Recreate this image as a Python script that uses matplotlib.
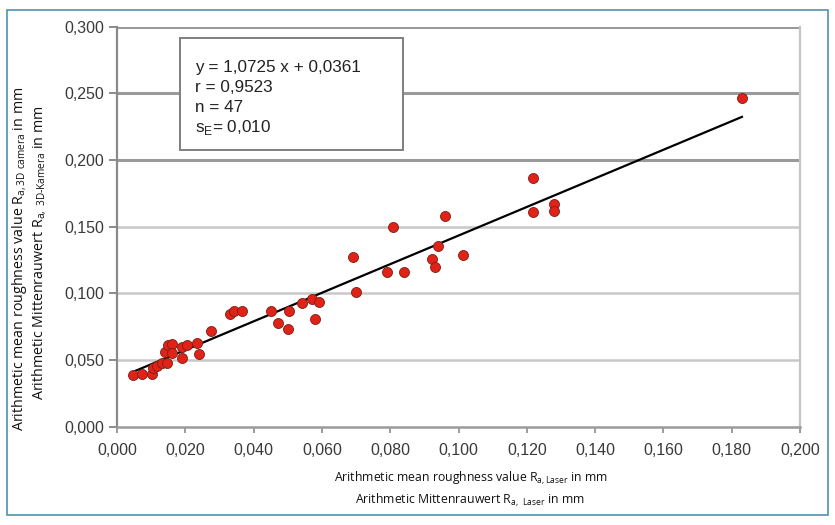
import matplotlib
matplotlib.use("Agg")
import matplotlib.pyplot as plt
from matplotlib.patches import Rectangle
from matplotlib.ticker import FixedLocator

# ---- data ----
laser_x = [0.0046, 0.0072, 0.0103, 0.0106, 0.0116, 0.0131, 0.0146, 0.0141, 0.0150, 0.0160,
           0.0160, 0.0189, 0.0204, 0.0189, 0.0235, 0.0241, 0.0274,
           0.0331, 0.0343, 0.0365, 0.0450, 0.0471, 0.0504, 0.0502, 0.0541, 0.0572,
           0.0592, 0.0580, 0.0690, 0.0700,
           0.0790, 0.0840, 0.0809, 0.0922, 0.0931, 0.0941, 0.0960, 0.1014,
           0.1219, 0.1219, 0.1281, 0.1281, 0.1831]
camera_y = [0.0388, 0.0395, 0.0395, 0.0438, 0.0455, 0.0480, 0.0476, 0.0558, 0.0613, 0.0620,
            0.0551, 0.0596, 0.0613, 0.0518, 0.0626, 0.0545, 0.0718,
            0.0845, 0.0868, 0.0868, 0.0870, 0.0776, 0.0868, 0.0731, 0.0930, 0.0956,
            0.0938, 0.0808, 0.1271, 0.1008,
            0.1160, 0.1160, 0.1496, 0.1260, 0.1196, 0.1358, 0.1583, 0.1288,
            0.1863, 0.1608, 0.1670, 0.1618, 0.2463]
slope = 1.0725
intercept = 0.0361
fit_range = [0.005, 0.183]
x_ticks = [0.000, 0.020, 0.040, 0.060, 0.080, 0.100, 0.120, 0.140, 0.160, 0.180, 0.200]
y_ticks = [0.000, 0.050, 0.100, 0.150, 0.200, 0.250, 0.300]
stats_lines = ["y = 1,0725 x + 0,0361", "r = 0,9523", "n = 47", r"s$_\mathregular{E}$= 0,010"]

W, H = 835, 525
fig = plt.figure(figsize=(W / 100, H / 100), dpi=100)
ax = fig.add_axes([117 / W, 1 - 426.7 / H, (800 - 117) / W, (426.7 - 26.7) / H])

ax.set_xlim(0, 0.2)
ax.set_ylim(0, 0.3)

# grid lines
for yv in y_ticks[1:]:
    if yv >= 0.2:
        ax.axhline(yv, color="#9a9a9a", lw=2.2, zorder=1)
    else:
        ax.axhline(yv, color="#c8c8c8", lw=1.8, zorder=1)

# regression line
fx = fit_range
fy = [slope * v + intercept for v in fx]
ax.plot(fx, fy, color="black", lw=1.6, zorder=3)

# points
ax.scatter(laser_x, camera_y, s=52, color="#e02218", edgecolors="#7a2015",
           linewidths=0.6, zorder=4)

# spines
ax.spines["top"].set_visible(False)
ax.spines["left"].set_color("#8a8a8a")
ax.spines["left"].set_linewidth(1.6)
ax.spines["bottom"].set_color("#9a9a9a")
ax.spines["bottom"].set_linewidth(1.8)
ax.spines["right"].set_color("#c4c4c4")
ax.spines["right"].set_linewidth(1.6)

def fmt(v):
    return f"{v:.3f}".replace(".", ",")

ax.xaxis.set_major_locator(FixedLocator(x_ticks))
ax.yaxis.set_major_locator(FixedLocator(y_ticks))
ax.set_xticklabels([fmt(v) for v in x_ticks])
ax.set_yticklabels([fmt(v) for v in y_ticks])
ax.tick_params(axis="x", direction="out", length=4, width=1.2, color="#8a8a8a",
               labelsize=11.5, labelcolor="#3a3a3a", pad=8)
ax.tick_params(axis="y", direction="out", length=6, width=1.4, color="#8a8a8a",
               labelsize=11.5, labelcolor="#3a3a3a", pad=3)
for lab in ax.get_xticklabels() + ax.get_yticklabels():
    lab.set_fontfamily("Liberation Sans")

# statistics box
box = Rectangle((0.092, 0.692), 0.327, 0.28, transform=ax.transAxes,
                facecolor="white", edgecolor="#7f7f7f", lw=1.4, zorder=5)
ax.add_patch(box)
for i, line in enumerate(stats_lines):
    ax.text(0.114, 0.897 - i * 0.05, line, transform=ax.transAxes,
            fontsize=12.3, family="Liberation Sans", color="#222222",
            va="center", ha="left", zorder=6)

# axis labels
lab_font = "Open Sans"
fig.text(471 / W, 1 - 478 / H,
         r"Arithmetic mean roughness value R$_\mathregular{a,Laser}$ in mm",
         ha="center", va="center", fontsize=8.8, family=lab_font, color="#111111")
fig.text(470 / W, 1 - 500 / H,
         r"Arithmetic Mittenrauwert R$_\mathregular{a,\ Laser}$ in mm",
         ha="center", va="center", fontsize=8.8, family=lab_font, color="#111111")
fig.text(20 / W, 1 - 259 / H,
         r"Arithmetic mean roughness value R$_\mathregular{a,3D\ camera}$ in mm",
         ha="center", va="center", rotation=90, fontsize=10.3, family=lab_font,
         color="#111111")
fig.text(39 / W, 1 - 253 / H,
         r"Arithmetic Mittenrauwert R$_\mathregular{a,\ 3D\text{-}Kamera}$ in mm",
         ha="center", va="center", rotation=90, fontsize=10.3, family=lab_font,
         color="#111111")

# outer frame
fig.patches.append(Rectangle((7 / W, 1 - 515 / H), (828 - 7) / W, (515 - 10) / H,
                             transform=fig.transFigure, facecolor="none",
                             edgecolor="#4f93ad", lw=1.2))

fig.savefig("out.png", dpi=100)
